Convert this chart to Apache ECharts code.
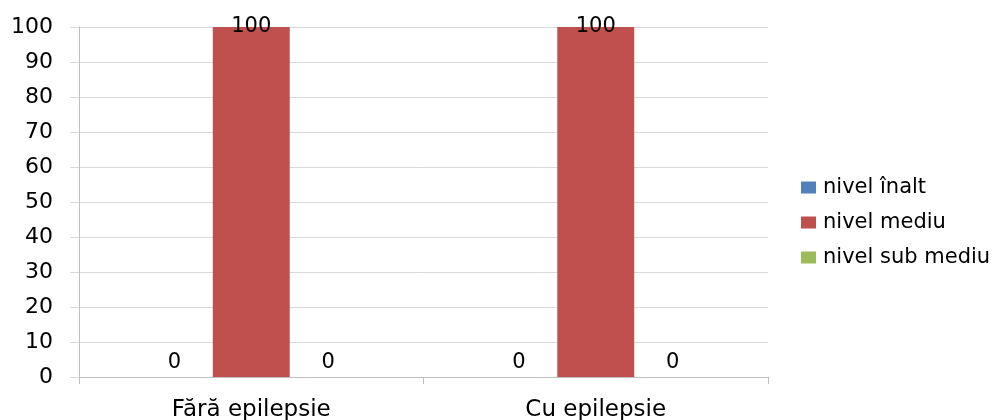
<!DOCTYPE html>
<html><head><meta charset="utf-8">
<script src="https://cdn.jsdelivr.net/npm/echarts@6/dist/echarts.min.js"></script>
<style>html,body{margin:0;padding:0;background:#fff}#c{width:1003px;height:420px}</style>
</head><body><div id="c"></div>
<script>
const categories = ["Fără epilepsie", "Cu epilepsie"];
const seriesNames = ["nivel înalt", "nivel mediu", "nivel sub mediu"];
const nivelInalt = [0, 0];
const nivelMediu = [100, 100];
const nivelSubMediu = [0, 0];
const colors = ["#4F81BD", "#C0504D", "#9BBB59"];
const font = "DejaVu Sans";

function mk(name, vals, color) {
  return {
    name: name, type: "bar", barGap: 0, barCategoryGap: "33%",
    itemStyle: { color: color },
    data: vals.map(v => v === 100 ? { value: v, label: { offset: [0, 14] } } : v),
    label: { show: true, position: "top", distance: 4, color: "#000", fontFamily: font, fontSize: 21 }
  };
}
const chart = echarts.init(document.getElementById("c"));
chart.setOption({
  animation: false,
  grid: { left: 79, right: 235, top: 27, bottom: 43, outerBoundsMode: "none", containLabel: false },
  legend: {
    orient: "vertical", left: 796, top: 172, itemGap: 14,
    itemWidth: 15, itemHeight: 12, icon: "rect",
    textStyle: { fontFamily: font, fontSize: 21, color: "#000", padding: [0, 0, 0, 2] },
    data: seriesNames
  },
  xAxis: {
    type: "category", data: categories,
    axisLine: { lineStyle: { color: "#BFBFBF" } },
    axisTick: { show: true, length: 7, lineStyle: { color: "#BFBFBF" } },
    axisLabel: { fontFamily: font, fontSize: 23, color: "#000", margin: 22 }
  },
  yAxis: {
    type: "value", min: 0, max: 100, interval: 10,
    axisLine: { show: true, lineStyle: { color: "#BFBFBF" } },
    axisTick: { show: true, length: 9, lineStyle: { color: "#D9D9D9" } },
    splitLine: { lineStyle: { color: "#D9D9D9" } },
    axisLabel: { fontFamily: font, fontSize: 22, color: "#000", margin: 26 }
  },
  series: [
    mk(seriesNames[0], nivelInalt, colors[0]),
    mk(seriesNames[1], nivelMediu, colors[1]),
    mk(seriesNames[2], nivelSubMediu, colors[2])
  ]
});
</script></body></html>
